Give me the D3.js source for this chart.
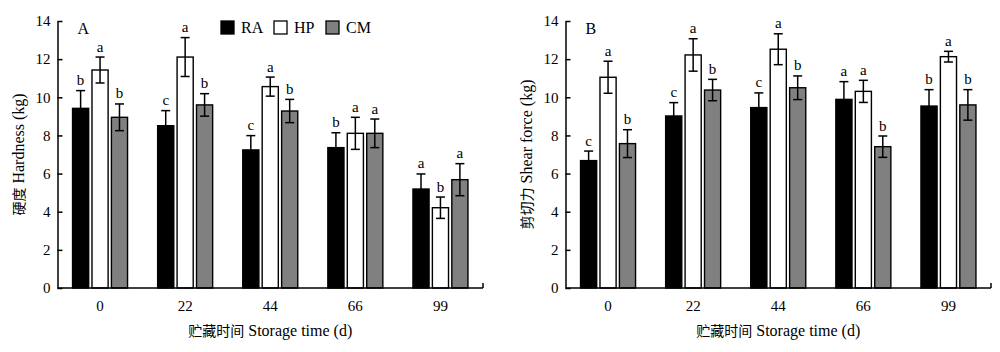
<!DOCTYPE html>
<html>
<head>
<meta charset="utf-8">
<script src="https://cdn.jsdelivr.net/npm/d3@7"></script>
<style>
  body { margin: 0; background: #fff; }
  svg text { font-family: "Liberation Serif", "Times New Roman", serif; fill: #000; }
  svg tspan.cjk { font-family: "Noto Sans CJK SC", sans-serif; }
</style>
</head>
<body>
<svg id="chart" width="1000" height="352"></svg>
<script>
const days = ["0", "22", "44", "66", "99"];
const series = ["RA", "HP", "CM"];
const seriesFill = { RA: "#000000", HP: "#ffffff", CM: "#808080" };
const yTicks = [0, 2, 4, 6, 8, 10, 12, 14];

// Panel A: hardness
const hardRA = [9.42, 8.51, 7.24, 7.36, 5.19];
const hardHP = [11.43, 12.11, 10.56, 8.11, 4.21];
const hardCM = [8.95, 9.60, 9.28, 8.11, 5.68];
const hardErrRA = [0.93, 0.79, 0.75, 0.78, 0.79];
const hardErrHP = [0.68, 1.02, 0.50, 0.84, 0.56];
const hardErrCM = [0.70, 0.59, 0.61, 0.75, 0.84];
const hardLetters = [["b", "a", "b"], ["c", "a", "b"], ["c", "a", "b"], ["b", "a", "a"], ["a", "b", "a"]];

// Panel B: shear force
const shearRA = [6.68, 9.02, 9.46, 9.89, 9.54];
const shearHP = [11.05, 12.22, 12.52, 10.31, 12.13];
const shearCM = [7.57, 10.38, 10.50, 7.41, 9.60];
const shearErrRA = [0.50, 0.70, 0.77, 0.93, 0.86];
const shearErrHP = [0.84, 0.85, 0.81, 0.58, 0.28];
const shearErrCM = [0.73, 0.56, 0.62, 0.56, 0.80];
const shearLetters = [["c", "a", "b"], ["c", "a", "b"], ["c", "a", "b"], ["a", "a", "b"], ["b", "a", "b"]];

const svg = d3.select("#chart");
const FONT = 15;

// chinese part + latin part in separate tspans so each gets its own font
function mixedText(sel, zh, en) {
  sel.append("tspan").attr("class", "cjk").attr("font-size", FONT - 1).text(zh);
  sel.append("tspan").text(" " + en);
}

function drawPanel(opts) {
  const { left, right, label, yTitleZh, yTitleEn, values, errors, letters, legend } = opts;
  const top = 21, bottom = 288;

  const x = d3.scaleBand().domain(days).range([left, right]).padding(0);
  const xs = d3.scaleBand().domain(series).range([-27.5, 27.5]).paddingInner(0.17);
  const y = d3.scaleLinear().domain([0, 14]).range([bottom, top]);

  const g = svg.append("g");

  // bars
  series.forEach((s, si) => {
    const grp = g.append("g");
    days.forEach((d, di) => {
      const v = values[si][di];
      const e = errors[si][di];
      const bx = x(d) + x.bandwidth() / 2 + xs(s);
      const cx = bx + xs.bandwidth() / 2;
      grp.append("rect")
        .attr("x", bx)
        .attr("y", y(v))
        .attr("width", xs.bandwidth())
        .attr("height", y(0) - y(v))
        .attr("fill", seriesFill[s])
        .attr("stroke", "#000")
        .attr("stroke-width", 1.4);
      // error bar
      grp.append("line")
        .attr("x1", cx).attr("x2", cx)
        .attr("y1", y(v - e)).attr("y2", y(v + e))
        .attr("stroke", "#000").attr("stroke-width", 1.5);
      [v - e, v + e].forEach(t => {
        grp.append("line")
          .attr("x1", cx - 4.5).attr("x2", cx + 4.5)
          .attr("y1", y(t)).attr("y2", y(t))
          .attr("stroke", "#000").attr("stroke-width", 1.5);
      });
      grp.append("text")
        .attr("x", cx)
        .attr("y", y(v + e) - 5.5)
        .attr("text-anchor", "middle")
        .attr("font-size", FONT)
        .text(letters[di][si]);
    });
  });

  // y axis, ticks pointing inward
  const yAxis = g.append("g")
    .attr("transform", `translate(${left},0)`)
    .call(d3.axisRight(y).tickValues(yTicks).tickSize(5).tickPadding(0).tickSizeOuter(0));
  yAxis.attr("font-family", null);
  yAxis.select(".domain").attr("stroke-width", 1.5);
  yAxis.selectAll(".tick line").attr("stroke-width", 1.5);
  yAxis.selectAll(".tick text")
    .attr("x", -7)
    .attr("text-anchor", "end")
    .attr("font-size", FONT);

  // x axis
  const xAxis = g.append("g")
    .attr("transform", `translate(0,${bottom})`)
    .call(d3.axisBottom(x).tickSize(0).tickPadding(12));
  xAxis.attr("font-family", null);
  xAxis.select(".domain").remove();
  xAxis.selectAll(".tick text").attr("font-size", FONT);
  g.append("line")
    .attr("x1", left).attr("x2", right)
    .attr("y1", bottom).attr("y2", bottom)
    .attr("stroke", "#000").attr("stroke-width", 1.5);
  g.append("line")
    .attr("x1", right).attr("x2", right)
    .attr("y1", bottom).attr("y2", bottom - 5)
    .attr("stroke", "#000").attr("stroke-width", 1.5);

  // titles
  g.append("text")
    .attr("x", (left + right) / 2)
    .attr("y", 336)
    .attr("text-anchor", "middle")
    .attr("font-size", FONT + 1)
    .call(mixedText, "贮藏时间", "Storage time (d)");
  g.append("text")
    .attr("transform", `translate(${left - 34},${(top + bottom) / 2}) rotate(-90)`)
    .attr("text-anchor", "middle")
    .attr("font-size", FONT + 1)
    .call(mixedText, yTitleZh, yTitleEn);
  g.append("text")
    .attr("x", left + 20)
    .attr("y", 34)
    .attr("font-size", FONT + 1)
    .text(label);

  if (legend) {
    const lx = [221, 274, 326];
    const lg = g.append("g");
    series.forEach((s, i) => {
      lg.append("rect")
        .attr("x", lx[i]).attr("y", 21)
        .attr("width", 13).attr("height", 13)
        .attr("fill", seriesFill[s])
        .attr("stroke", "#000").attr("stroke-width", 1.3);
      lg.append("text")
        .attr("x", lx[i] + 20)
        .attr("y", 33)
        .attr("font-size", FONT + 1)
        .text(s);
    });
  }
}

drawPanel({
  left: 57.5, right: 483,
  label: "A",
  yTitleZh: "硬度", yTitleEn: "Hardness (kg)",
  values: [hardRA, hardHP, hardCM],
  errors: [hardErrRA, hardErrHP, hardErrCM],
  letters: hardLetters,
  legend: true
});

drawPanel({
  left: 565.5, right: 991,
  label: "B",
  yTitleZh: "剪切力", yTitleEn: "Shear force (kg)",
  values: [shearRA, shearHP, shearCM],
  errors: [shearErrRA, shearErrHP, shearErrCM],
  letters: shearLetters,
  legend: false
});
</script>
</body>
</html>
